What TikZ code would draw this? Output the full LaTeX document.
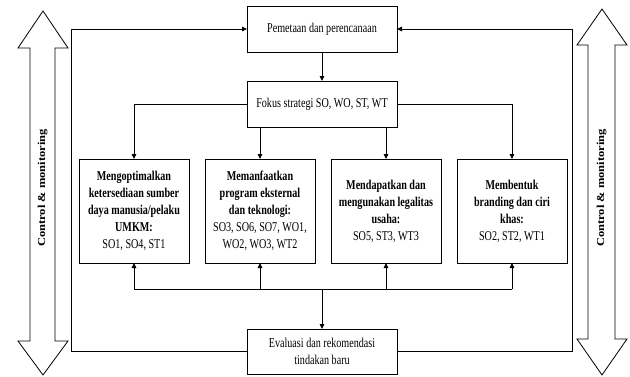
\documentclass[tikz,border=0pt]{standalone}
\usepackage{fontspec}
\usepackage{graphicx}
\setmainfont{Liberation Serif}[FakeStretch=0.75]
\newfontfamily\ctrlfont{Liberation Serif}
\usetikzlibrary{positioning,arrows.meta}

\begin{document}
\begin{tikzpicture}[
  x=1pt, y=1pt,
  font=\fontsize{13.5}{17}\selectfont,
  flowbox/.style={draw, line width=0.9pt, outer sep=0pt, minimum width=150pt, minimum height=46pt, align=center, inner sep=2pt},
  stratbox/.style={flowbox, minimum width=110pt, minimum height=104pt},
  link/.style={line width=0.9pt, -{Triangle[length=5pt,width=4.5pt]}},
  ctrl/.style={draw, line width=0.8pt},
  ctrltext/.style={rotate=90, inner sep=0pt, font=\ctrlfont\bfseries\fontsize{12.5}{14}\selectfont}
]
\useasboundingbox (0,0) rectangle (630,376);

% control & monitoring
\draw[ctrl] (30,328) -- (18,328) -- (43,365) -- (68,328) -- (55,328) -- (55,35) -- (68,35) -- (43,1) -- (18,35) -- (30,35) -- cycle;
\draw[ctrl] (588,331) -- (577,331) -- (602,367) -- (627,331) -- (615,331) -- (615,37) -- (627,37) -- (602,1) -- (577,37) -- (588,37) -- cycle;
\node[ctrltext] (ctrlleft) at (42.5,188) {\scalebox{1}[0.85]{Control \& monitoring}};
\node[ctrltext] (ctrlright) at (601.5,188) {\scalebox{1}[0.85]{Control \& monitoring}};

\node[flowbox] (pemetaan) at (322,347) {Pemetaan dan perencanaan};
\node[flowbox, below=29pt of pemetaan] (fokus) {Fokus strategi SO, WO, ST, WT};

\node[stratbox] (optimal) at (134,165) {\textbf{Mengoptimalkan}\\\textbf{ketersediaan sumber}\\\textbf{daya manusia/pelaku}\\\textbf{UMKM:}\\SO1, SO4, ST1};
\node[stratbox, right=16pt of optimal] (eksternal) {\textbf{Memanfaatkan}\\\textbf{program eksternal}\\\textbf{dan teknologi:}\\SO3, SO6, SO7, WO1,\\WO2, WO3, WT2};
\node[stratbox, right=16pt of eksternal] (legalitas) {\textbf{Mendapatkan dan}\\\textbf{mengunakan legalitas}\\\textbf{usaha:}\\SO5, ST3, WT3};
\node[stratbox, right=16pt of legalitas] (branding) {\textbf{Membentuk}\\\textbf{branding dan ciri}\\\textbf{khas:}\\SO2, ST2, WT1};

\node[flowbox, minimum height=45pt] (evaluasi) at (322,24.5) {Evaluasi dan rekomendasi\\tindakan baru};

\coordinate (bus) at (322,87);
\coordinate (loopleft) at (71,347);
\coordinate (loopright) at (572,347);

\draw[link] (pemetaan) -- (fokus);
\draw[link] (fokus.west) -| (optimal.north);
\draw[link] (fokus.south -| eksternal.north) -- (eksternal.north);
\draw[link] (fokus.south -| legalitas.north) -- (legalitas.north);
\draw[link] (fokus.east) -| (branding.north);

\draw[line width=0.9pt] (bus -| optimal.south) -- (bus -| branding.south);
\foreach \b in {optimal,eksternal,legalitas,branding}
  \draw[link] (bus -| \b.south) -- (\b.south);
\draw[link] (bus) -- (evaluasi);

\draw[link] (evaluasi.west) -| (loopleft) -- (pemetaan.west);
\draw[link] (evaluasi.east) -| (loopright) -- (pemetaan.east);
\end{tikzpicture}
\end{document}
